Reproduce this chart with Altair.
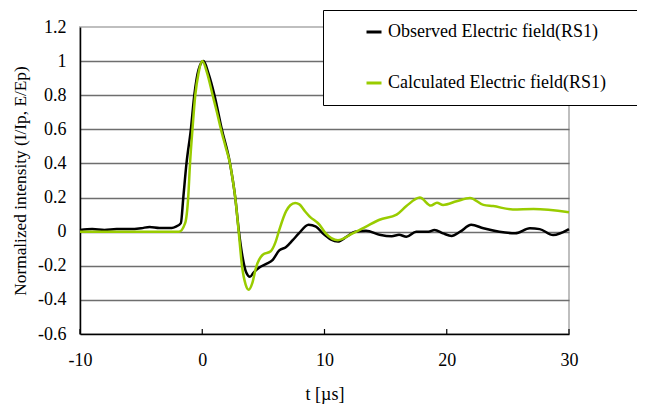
import altair as alt
import pandas as pd

# ---- data ----
obs_t = [-10, -9, -8, -7, -6, -5, -4.3, -3.5, -2.5, -2.15, -1.75, -1.55, -1.29, -0.93,
         -0.65, -0.3, 0.1, 0.5, 1.0, 1.6, 2.27, 2.7, 3.0, 3.3, 3.6, 3.9, 4.2, 4.67,
         5.2, 5.77, 6.3, 6.86, 7.4, 7.9, 8.7, 9.3, 9.86, 10.5, 11.1, 11.8, 12.5, 13.4,
         14.5, 15.5, 16.1, 16.7, 17.5, 18.5, 19.0, 19.7, 20.4, 21.1, 22.0, 23.0, 24.3,
         25.6, 26.8, 27.6, 28.7, 30]
obs_v = [0.01, 0.015, 0.01, 0.015, 0.015, 0.02, 0.028, 0.022, 0.022, 0.03, 0.05, 0.2, 0.4, 0.6,
         0.8, 0.95, 1.0, 0.93, 0.8, 0.6, 0.4, 0.2, 0.0, -0.15, -0.24, -0.265, -0.24, -0.21,
         -0.19, -0.165, -0.11, -0.09, -0.05, -0.01, 0.04, 0.03, -0.01, -0.045, -0.058, -0.03, 0.0, 0.005,
         -0.018, -0.027, -0.018, -0.03, 0.0, 0.0, 0.01, -0.01, -0.025, 0.0, 0.04, 0.02, 0.0,
         -0.01, 0.02, 0.015, -0.02, 0.015]

calc_t = [-10, -1.9, -1.4, -1.15, -1.0, -0.8, -0.57, -0.3, 0.0, 0.4, 0.85, 1.2, 1.53, 1.9,
          2.27, 2.5, 2.7, 2.98, 3.25, 3.55, 3.8, 4.1, 4.4, 4.95, 5.6, 6.0, 6.3, 6.86, 7.2,
          7.6, 7.95, 8.4, 8.77, 9.6, 10.1, 11.1, 12.3, 13.4, 14.5, 15.9, 16.7, 17.8, 18.7,
          19.2, 19.7, 20.8, 21.9, 23.0, 23.8, 25.4, 27.1, 30]
calc_v = [0.0, 0.0, 0.05, 0.2, 0.4, 0.6, 0.8, 0.93, 1.0, 0.93, 0.8, 0.7, 0.6, 0.5,
          0.4, 0.3, 0.2, 0.0, -0.2, -0.31, -0.34, -0.3, -0.21, -0.135, -0.115, -0.06, 0.01, 0.12, 0.155,
          0.168, 0.16, 0.12, 0.09, 0.04, -0.01, -0.05, -0.01, 0.03, 0.07, 0.1, 0.15, 0.2, 0.153,
          0.17, 0.157, 0.178, 0.198, 0.157, 0.15, 0.13, 0.133, 0.114]

series_names = ["Observed Electric field(RS1)", "Calculated Electric field(RS1)"]
series_colors = ["#000000", "#99CC00"]

x_ticks = [-10, 0, 10, 20, 30]
y_ticks = [-0.6, -0.4, -0.2, 0, 0.2, 0.4, 0.6, 0.8, 1, 1.2]

df = pd.concat([
    pd.DataFrame({"t": obs_t, "v": obs_v, "series": series_names[0], "ord": 0}),
    pd.DataFrame({"t": calc_t, "v": calc_v, "series": series_names[1], "ord": 1}),
])
tick_df = pd.DataFrame({"t": x_ticks})

FONT = "Liberation Serif"
W, H = 489, 307

x_scale = alt.Scale(domain=[-10, 30], nice=False, zero=False)
y_scale = alt.Scale(domain=[-0.6, 1.2], nice=False, zero=False)

lines = alt.Chart(df).mark_line(strokeWidth=2.5, interpolate="monotone").encode(
    x=alt.X("t:Q", scale=x_scale,
            axis=alt.Axis(values=x_ticks, title="t [µs]", grid=False, ticks=False,
                          labelExpr="'' + datum.value", labelPadding=17, labelFlush=False,
                          domainColor="#000000", domainWidth=1.5,
                          titleY=60, titleBaseline="middle")),
    y=alt.Y("v:Q", scale=y_scale,
            axis=alt.Axis(values=y_ticks, title="Normalized intensity (I/Ip, E/Ep)",
                          ticks=False, labelExpr="'' + datum.value", labelPadding=14,
                          labelFlush=False,
                          domainColor="#000000", domainWidth=1.5,
                          gridColor={"condition": {"test": "datum.value >= 1.19 || datum.value <= -0.59",
                                                   "value": "transparent"},
                                     "value": "#6e6e6e"},
                          gridWidth=1.5,
                          titleFontSize=17.3,
                          titleX=-60, titleY=H / 2, titleAngle=-90,
                          titleBaseline="middle")),
    color=alt.Color("series:N", scale=alt.Scale(domain=series_names, range=series_colors),
                    legend=alt.Legend(title=" ", titleOrient="right", titlePadding=70,
                                      orient="none", legendX=243, legendY=-17,
                                      symbolType="stroke", symbolSize=225, symbolStrokeWidth=3,
                                      symbolOffset=29, labelOffset=5,
                                      rowPadding=33, padding=13,
                                      strokeColor="#000000", fillColor="#ffffff",
                                      labelFont=FONT, labelFontSize=18, labelLimit=400)),
    order=alt.Order("ord:Q"),
)

inner_ticks = alt.Chart(tick_df).mark_rule(color="#000000", strokeWidth=1.2).encode(
    x=alt.X("t:Q", scale=x_scale),
    y=alt.value(H),
    y2=alt.value(H - 5),
)

chart = alt.layer(inner_ticks, lines).properties(
    width=W, height=H,
    background="#ffffff",
    autosize=alt.AutoSizeParams(type="none"),
    padding={"left": 72, "top": 19, "right": 68, "bottom": 70},
).configure_view(
    stroke="#BFBFBF", strokeWidth=2
).configure_axis(
    labelFont=FONT, labelFontSize=18, labelColor="#000000",
    titleFont=FONT, titleFontSize=18, titleColor="#000000", titleFontWeight="normal",
)

chart.save("out.html", embed_options={"renderer": "svg", "actions": False})
